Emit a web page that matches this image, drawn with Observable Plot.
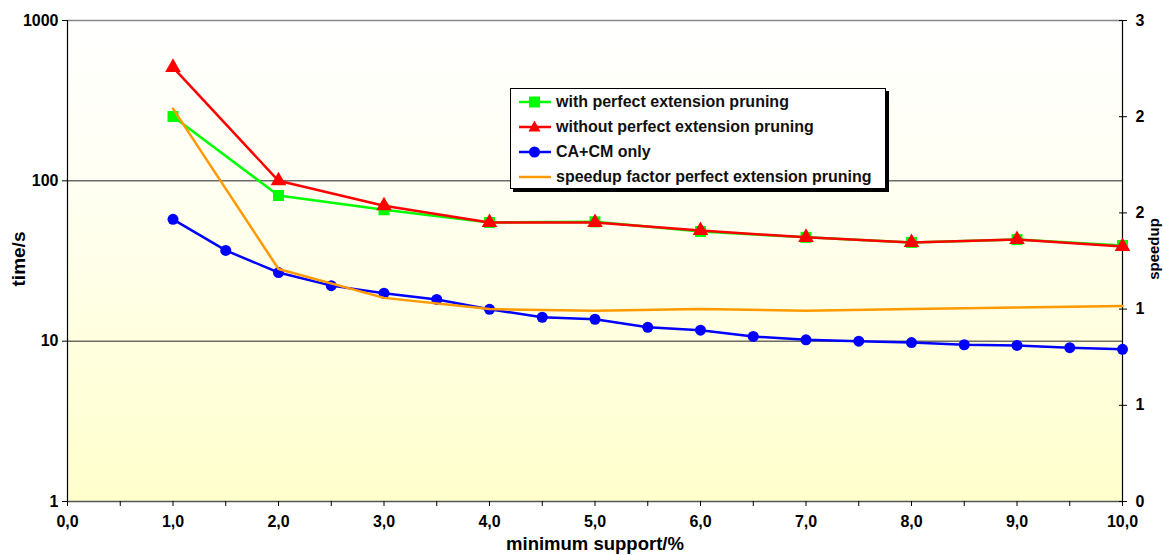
<!DOCTYPE html>
<html>
<head>
<meta charset="utf-8">
<script src="https://cdn.jsdelivr.net/npm/d3@7"></script>
<script src="https://cdn.jsdelivr.net/npm/@observablehq/plot@0.6"></script>
<style>
  body { margin: 0; background: #fff; font-family: "Liberation Sans", Arial, sans-serif; }
  #wrap { position: relative; width: 1163px; height: 555px; overflow: hidden; }
  #legend { position: absolute; left: 510px; top: 88px; width: 374px; height: 99px;
            background: #fff; border: 1px solid #000; box-shadow: 3px 3px 0 #000; }
  .row { position: absolute; left: 0; height: 25px; display: flex; align-items: center;
         font-weight: bold; font-size: 16px; color: #111; white-space: nowrap; }
  .row svg { margin-left: 8px; margin-right: 5px; }
</style>
</head>
<body>
<div id="wrap"></div>
<script>
// ---- data ----
const support = [1, 2, 3, 4, 5, 6, 7, 8, 9, 10];
const withPruning = [252, 81, 66, 55, 55.5, 48.3, 44.4, 41.3, 43, 39.5];
const withoutPruning = [510, 100, 70, 55, 55, 49, 44.4, 41.3, 43, 39];
const caSupport = [1, 1.5, 2, 2.5, 3, 3.5, 4, 4.5, 5, 5.5, 6, 6.5, 7, 7.5, 8, 8.5, 9, 9.5, 10];
const caTime = [57.5, 36.8, 26.8, 22.2, 19.9, 18.2, 15.8, 14.1, 13.7, 12.2, 11.7, 10.7, 10.2, 10.0, 9.8, 9.5, 9.4, 9.1, 8.9];
const speedup = [2.45, 1.45, 1.27, 1.2, 1.19, 1.2, 1.19, 1.2, 1.21, 1.22];
const timeTicks = [1, 10, 100, 1000];
const speedupTicks = [0, 0.6, 1.2, 1.8, 2.4, 3.0];
const xTicks = [0, 0.5, 1, 1.5, 2, 2.5, 3, 3.5, 4, 4.5, 5, 5.5, 6, 6.5, 7, 7.5, 8, 8.5, 9, 9.5, 10];
const seriesNames = ["with perfect extension pruning", "without perfect extension pruning", "CA+CM only", "speedup factor perfect extension pruning"];
const colors = ["#00ff00", "#ff0000", "#0000ff", "#ff9900"];

const rows = (xs, ys) => xs.map((x, i) => ({x, y: ys[i]}));
const green = rows(support, withPruning);
const red = rows(support, withoutPruning);
const blue = rows(caSupport, caTime);
// speedup axis 0..3 (linear) spans the same height as the 3 decades of the log time axis
const orange = support.map((x, i) => ({x, s: speedup[i]}));
const sToTime = s => Math.pow(10, s);

const defsMark = () => {
  const defs = document.createElementNS("http://www.w3.org/2000/svg", "defs");
  defs.innerHTML = '<linearGradient id="bg" x1="0" y1="0" x2="0" y2="1">' +
    '<stop offset="0" stop-color="#ffffff"/><stop offset="0.35" stop-color="#fffff2"/>' +
    '<stop offset="1" stop-color="#ffffcc"/></linearGradient>';
  return defs;
};

const font = {fontSize: 16, fontWeight: "bold"};

const chart = Plot.plot({
  width: 1163,
  height: 555,
  marginLeft: 67,
  marginRight: 41,
  marginTop: 20,
  marginBottom: 54,
  style: {fontFamily: "'Liberation Sans', Arial, sans-serif", fontWeight: "bold", fontSize: "16px", color: "#000", background: "#fff", overflow: "visible"},
  x: {domain: [0, 10], type: "linear"},
  y: {type: "log", domain: [1, 1000]},
  marks: [
    defsMark,
    Plot.frame({fill: "url(#bg)", stroke: "none"}),
    Plot.ruleY([10, 100], {stroke: "#222", strokeWidth: 1}),
    Plot.ruleY([1000], {stroke: "#888", strokeWidth: 1.5}),
    Plot.ruleY([1], {stroke: "#555", strokeWidth: 1.5}),
    Plot.ruleX([0], {stroke: "#000", strokeWidth: 1.2}),
    Plot.ruleX([10], {stroke: "#000", strokeWidth: 1.2}),
    Plot.axisY({anchor: "left", ticks: timeTicks, tickFormat: d => String(d), tickSize: 5, tickPadding: 4, label: null, ...font}),
    Plot.axisX({ticks: xTicks, tickFormat: d => (d % 1 === 0 ? d.toFixed(1).replace(".", ",") : ""), tickSize: 5, tickPadding: 9, label: null, ...font}),
    Plot.axisY({anchor: "right", ticks: speedupTicks.map(sToTime), tickFormat: () => "", tickSize: 8, dx: -4, label: null}),
    Plot.text(speedupTicks, {y: s => sToTime(s), text: s => String(Math.round(s)), frameAnchor: "right", dx: 13, textAnchor: "start", lineAnchor: "middle", ...font}),
    Plot.line(green, {x: "x", y: "y", stroke: colors[0], strokeWidth: 2.5}),
    Plot.dot(green, {x: "x", y: "y", symbol: "square", r: 6.2, fill: colors[0], stroke: "none"}),
    Plot.line(red, {x: "x", y: "y", stroke: colors[1], strokeWidth: 2.5}),
    Plot.dot(red, {x: "x", y: "y", symbol: "triangle", r: 5.8, fill: colors[1], stroke: "none"}),
    Plot.line(blue, {x: "x", y: "y", stroke: colors[2], strokeWidth: 2.5}),
    Plot.dot(blue, {x: "x", y: "y", symbol: "circle", r: 5.5, fill: colors[2], stroke: "none"}),
    Plot.line(orange, {x: "x", y: d => sToTime(d.s), stroke: colors[3], strokeWidth: 2.5}),
    Plot.text(["time/s"], {frameAnchor: "left", dx: -49, dy: -2, rotate: -90, textAnchor: "middle", lineAnchor: "middle", fontSize: 19, fontWeight: "bold"}),
    Plot.text(["speedup"], {frameAnchor: "right", dx: 32, dy: -12, rotate: -90, textAnchor: "middle", lineAnchor: "middle", fontSize: 15, fontWeight: "bold"}),
    Plot.text(["minimum support/%"], {frameAnchor: "bottom", dy: 43, textAnchor: "middle", lineAnchor: "middle", fontSize: 18.5, fontWeight: "bold"})
  ]
});

const wrap = document.getElementById("wrap");
wrap.appendChild(chart);

// legend
const legend = document.createElement("div");
legend.id = "legend";
const markerSvg = (i) => {
  const c = colors[i];
  let m = "";
  if (i === 0) m = `<rect x="10" y="6.5" width="11" height="11" fill="${c}"/>`;
  else if (i === 1) m = `<path d="M15.5,5.5 L21.5,16.5 L9.5,16.5 Z" fill="${c}"/>`;
  else if (i === 2) m = `<circle cx="15.5" cy="12" r="5.5" fill="${c}"/>`;
  return `<svg width="32" height="24"><line x1="0" y1="12" x2="32" y2="12" stroke="${c}" stroke-width="2.5"/>${m}</svg>`;
};
seriesNames.forEach((name, i) => {
  const r = document.createElement("div");
  r.className = "row";
  r.style.top = (i * 25) + "px";
  r.innerHTML = markerSvg(i) + `<span>${name}</span>`;
  legend.appendChild(r);
});
wrap.appendChild(legend);
</script>
</body>
</html>
